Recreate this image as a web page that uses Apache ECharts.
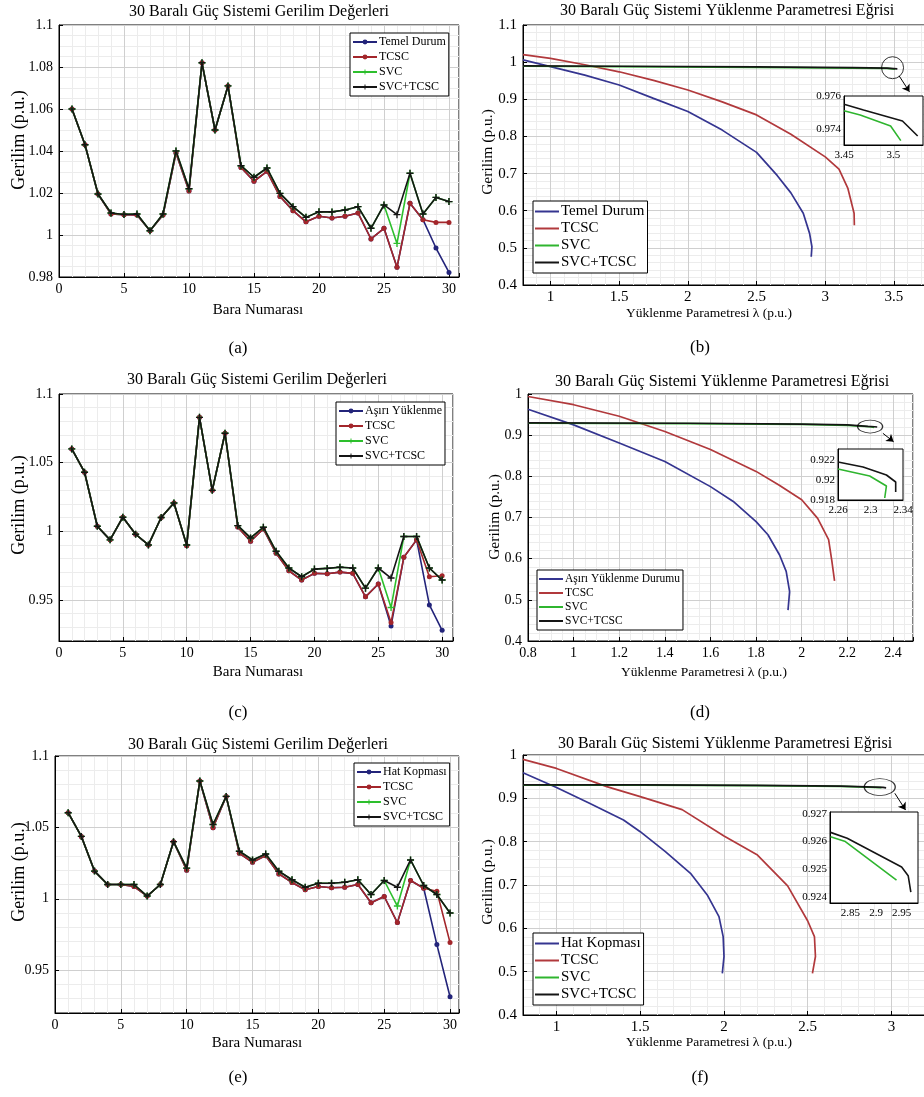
<!DOCTYPE html>
<html>
<head>
<meta charset="utf-8">
<script src="https://cdn.jsdelivr.net/npm/echarts@6/dist/echarts.min.js"></script>
<style>
  body { margin: 0; background: #fff; }
  .p { position: absolute; width: 462px; height: 365px; }
</style>
</head>
<body>
<div id="pa" class="p" style="left:0;top:0"></div>
<div id="pb" class="p" style="left:462px;top:0"></div>
<div id="pc" class="p" style="left:0;top:365px"></div>
<div id="pd" class="p" style="left:462px;top:365px"></div>
<div id="pe" class="p" style="left:0;top:730px"></div>
<div id="pf" class="p" style="left:462px;top:730px"></div>
<script>
// bus numbers
const buses = [1,2,3,4,5,6,7,8,9,10,11,12,13,14,15,16,17,18,19,20,21,22,23,24,25,26,27,28,29,30];

// (a) base case bus voltages
const aTemel    = [1.060,1.043,1.0195,1.010,1.0097,1.0095,1.002,1.0095,1.039,1.021,1.082,1.050,1.071,1.0322,1.0256,1.0303,1.0183,1.0116,1.0063,1.0089,1.0081,1.0089,1.0105,0.9981,1.0032,0.9846,1.0151,1.0073,0.9938,0.9822];
const aTcsc     = [1.060,1.043,1.0195,1.010,1.0097,1.0095,1.002,1.0095,1.039,1.021,1.082,1.050,1.071,1.0322,1.0256,1.0303,1.0183,1.0116,1.0063,1.0089,1.0081,1.0089,1.0105,0.9981,1.0032,0.9846,1.0151,1.0073,1.006,1.006];
const aSvc      = [1.060,1.043,1.0195,1.0105,1.0098,1.010,1.002,1.010,1.040,1.022,1.082,1.050,1.071,1.033,1.0275,1.0319,1.0198,1.0135,1.0084,1.0111,1.011,1.0119,1.0135,1.0032,1.0143,0.996,1.0294,1.010,1.0179,1.0159];
const aSvcTcsc  = [1.060,1.043,1.0195,1.0105,1.0098,1.010,1.002,1.010,1.040,1.022,1.082,1.050,1.071,1.033,1.0275,1.0319,1.0198,1.0135,1.0084,1.0111,1.011,1.0119,1.0135,1.0032,1.0143,1.0097,1.0294,1.010,1.0179,1.0159];

// (c) overload bus voltages
const cTemel    = [1.060,1.043,1.0036,0.9937,1.0102,0.9978,0.990,1.010,1.0206,0.9895,1.083,1.0298,1.0714,1.003,0.9927,1.0017,0.9839,0.9712,0.9644,0.9693,0.969,0.9702,0.9693,0.9522,0.9615,0.931,0.981,0.9937,0.9463,0.9278];
const cTcsc     = [1.060,1.043,1.0036,0.9937,1.0102,0.9978,0.990,1.010,1.0206,0.9895,1.083,1.0298,1.0714,1.003,0.9927,1.0017,0.9839,0.9712,0.9644,0.9693,0.969,0.9702,0.9693,0.9522,0.9615,0.9334,0.981,0.9937,0.9668,0.9676];
const cSvc      = [1.060,1.043,1.0036,0.9937,1.0102,0.9978,0.990,1.010,1.0206,0.990,1.083,1.0298,1.0714,1.0041,0.9951,1.0029,0.9854,0.9732,0.9668,0.9724,0.9729,0.9737,0.9732,0.9585,0.9732,0.9444,0.9961,0.9961,0.9732,0.9644];
const cSvcTcsc  = [1.060,1.043,1.0036,0.9937,1.0102,0.9978,0.990,1.010,1.0206,0.990,1.083,1.0298,1.0714,1.0041,0.9951,1.0029,0.9854,0.9732,0.9668,0.9724,0.9729,0.9737,0.9732,0.9585,0.9732,0.9659,0.9961,0.9961,0.9732,0.9644];

// (e) line outage bus voltages
const eTemel    = [1.0603,1.0437,1.0194,1.010,1.010,1.0086,1.0019,1.010,1.040,1.020,1.0825,1.0498,1.0717,1.0319,1.0256,1.0302,1.0174,1.0114,1.0063,1.0086,1.0077,1.0081,1.010,0.9972,1.0016,0.9833,1.0128,1.0074,0.9679,0.9314];
const eTcsc     = [1.0603,1.0437,1.0194,1.010,1.010,1.0086,1.0019,1.010,1.040,1.020,1.0825,1.0498,1.0717,1.0319,1.0256,1.0302,1.0174,1.0114,1.0063,1.0086,1.0077,1.0081,1.010,0.9972,1.0016,0.9833,1.0128,1.0074,1.0053,0.9693];
const eSvc      = [1.0603,1.0437,1.0194,1.010,1.010,1.010,1.0019,1.010,1.040,1.0215,1.0825,1.052,1.0717,1.0333,1.0272,1.0314,1.0193,1.0133,1.0081,1.0109,1.0109,1.0116,1.0133,1.003,1.0128,0.9949,1.0272,1.0093,1.003,0.990];
const eSvcTcsc  = [1.0603,1.0437,1.0194,1.010,1.010,1.010,1.0019,1.010,1.040,1.0215,1.0825,1.052,1.0717,1.0333,1.0272,1.0314,1.0193,1.0133,1.0081,1.0109,1.0109,1.0116,1.0133,1.003,1.0128,1.0081,1.0272,1.0093,1.003,0.990];

// (b) PV curves [lambda, V]
const bTemel    = [[0.8,1.006],[1.0,0.988],[1.25,0.965],[1.5,0.9385],[1.75,0.9025],[2.0,0.867],[2.25,0.817],[2.5,0.757],[2.65,0.695],[2.75,0.648],[2.84,0.593],[2.886,0.539],[2.903,0.503],[2.898,0.476]];
const bTcsc     = [[0.8,1.02],[1.0,1.01],[1.25,0.993],[1.5,0.974],[1.75,0.951],[2.0,0.925],[2.25,0.893],[2.5,0.858],[2.75,0.806],[3.0,0.745],[3.1,0.712],[3.165,0.66],[3.21,0.593],[3.212,0.561]];
const bSvc      = [[0.8,0.989],[1.5,0.988],[2.5,0.986],[3.2,0.984],[3.45,0.983],[3.508,0.981]];
const bSvcTcsc  = [[0.8,0.99],[1.5,0.989],[2.5,0.987],[3.2,0.985],[3.45,0.984],[3.525,0.982]];
const bZoomSvc      = [[3.45,0.9751],[3.4664,0.97484],[3.4972,0.97416],[3.5075,0.97327]];
const bZoomSvcTcsc  = [[3.45,0.97549],[3.4698,0.97514],[3.5092,0.97447],[3.5246,0.97355]];

// (d) PV curves, overload
const dTemel    = [[0.8,0.963],[1.0,0.925],[1.2,0.881],[1.4,0.836],[1.6,0.775],[1.7,0.739],[1.8,0.69],[1.852,0.658],[1.903,0.609],[1.932,0.569],[1.947,0.52],[1.94,0.475]];
const dTcsc     = [[0.8,0.994],[1.0,0.974],[1.2,0.946],[1.4,0.909],[1.6,0.865],[1.8,0.812],[1.9,0.779],[2.0,0.743],[2.07,0.698],[2.118,0.646],[2.132,0.595],[2.144,0.546]];
const dSvc      = [[0.8,0.929],[1.5,0.928],[2.0,0.926],[2.2,0.924],[2.3,0.9204],[2.318,0.9188]];
const dSvcTcsc  = [[0.8,0.93],[1.5,0.929],[2.0,0.927],[2.2,0.925],[2.29,0.9215],[2.32,0.9205],[2.331,0.9198]];
const dZoomSvc      = [[2.26,0.9211],[2.299,0.9204],[2.3196,0.9194],[2.3175,0.9182]];
const dZoomSvcTcsc  = [[2.26,0.9218],[2.2908,0.9213],[2.3196,0.9205],[2.331,0.9198],[2.331,0.9188]];

// (f) PV curves, line outage
const fTemel    = [[0.8,0.959],[1.0,0.925],[1.2,0.888],[1.4,0.85],[1.5,0.823],[1.65,0.777],[1.8,0.727],[1.9,0.677],[1.97,0.627],[1.995,0.581],[2.0,0.535],[1.99,0.496]];
const fTcsc     = [[0.8,0.99],[1.0,0.969],[1.3,0.927],[1.5,0.904],[1.75,0.874],[2.0,0.813],[2.2,0.769],[2.38,0.698],[2.5,0.617],[2.54,0.581],[2.546,0.535],[2.528,0.496]];
const fSvc      = [[0.8,0.9305],[1.5,0.9305],[2.2,0.9295],[2.7,0.9275],[2.85,0.926],[2.94,0.9246]];
const fSvcTcsc  = [[0.8,0.931],[1.5,0.931],[2.2,0.93],[2.7,0.928],[2.85,0.9263],[2.95,0.9251],[2.968,0.9242]];
const fZoomSvc      = [[2.811,0.92617],[2.84,0.926],[2.94,0.92462]];
const fZoomSvcTcsc  = [[2.811,0.92633],[2.8436,0.92612],[2.95,0.92509],[2.9628,0.92478],[2.968,0.92419]];

const SERIF = '"Liberation Serif", "DejaVu Serif", serif';
const PLUS = 'path://M4,0H6V10H4ZM0,4H10V6H0Z';
const COLORS = ['#23247a', '#a3262b', '#2dbf2d', '#151515'];
const CURVE_COLORS = ['#353590', '#b1393c', '#2fb52f', '#151515'];

function labelIf(step, base) {
  base = base || 0;
  return function (v) {
    const r = (v - base) / step;
    return Math.abs(r - Math.round(r)) < 1e-6 ? String(+v.toFixed(4)) : '';
  };
}

// minor grid axis + major axis sharing the same extent
function mainAxes(dim, a, fontSize) {
  const common = { type: 'value', gridIndex: 0, min: a.min, max: a.max };
  const minor = Object.assign({}, common, {
    position: dim === 'x' ? 'top' : 'right',
    interval: a.minor, z: 0,
    axisLine: { show: false }, axisTick: { show: false }, axisLabel: { show: false },
    splitLine: { show: true, lineStyle: { color: '#ececec', width: 1 } }
  });
  const major = Object.assign({}, common, {
    position: dim === 'x' ? 'bottom' : 'left', z: 1,
    axisLine: { show: true, onZero: false, lineStyle: { color: '#000' } },
    axisTick: { show: true, inside: true, length: 4, lineStyle: { color: '#000' } },
    axisLabel: { color: '#000', fontFamily: SERIF, fontSize: fontSize, margin: dim === 'x' ? 5 : 6, formatter: labelIf(a.step) },
    splitLine: { show: true, lineStyle: { color: '#cfcfcf', width: 1 } }
  });
  if (a.auto) major.splitNumber = a.split; else major.interval = a.step;
  return [minor, major];
}

function insetAxis(dim, a) {
  return {
    type: 'value', gridIndex: 1, min: a.min, max: a.max, interval: a.interval,
    position: dim === 'x' ? 'bottom' : 'left', z: 6,
    axisLine: { show: true, onZero: false, lineStyle: { color: '#000' } },
    axisTick: { show: false },
    axisLabel: { color: '#000', fontFamily: SERIF, fontSize: 11, margin: dim === 'x' ? 5 : 3, formatter: labelIf(a.step, a.base) },
    splitLine: { show: false }
  };
}

function legendAt(pos, names, fontSize, lineOnly) {
  const lg = {
    show: true, orient: 'vertical', left: pos[0], top: pos[1], data: names,
    itemWidth: 24, itemHeight: lineOnly ? 2 : 6, itemGap: lineOnly ? 2 : 3, padding: [3, 3, 3, 2],
    borderColor: '#000', borderWidth: 1, backgroundColor: '#fff', selectedMode: false, z: 20,
    textStyle: { color: '#000', fontFamily: SERIF, fontSize: fontSize, padding: [0, 0, 0, -3] }
  };
  if (lineOnly) lg.icon = 'rect';
  return lg;
}

function texts(t) {
  const st = (s, size) => ({ text: s, font: size + 'px ' + SERIF, fill: '#000',
    textAlign: 'center', textVerticalAlign: 'middle', align: 'center', verticalAlign: 'middle' });
  return [
    { type: 'text', x: t.title[0], y: t.title[1], style: st(t.title[2], 16) },
    { type: 'text', x: t.xName[0], y: t.xName[1], style: st(t.xName[2], t.xNameSize) },
    { type: 'text', x: t.yName[0], y: t.yName[1], rotation: Math.PI / 2, style: st('Gerilim (p.u.)', t.yNameSize) },
    { type: 'text', x: t.label[0], y: t.label[1], style: st(t.label[2], 17) }
  ];
}

const gridBase = { show: true, borderColor: '#000', borderWidth: 1, backgroundColor: 'transparent', containLabel: false, outerBoundsMode: 'none' };

function busPanel(id, cfg) {
  const chart = echarts.init(document.getElementById(id));
  const marks = [['circle', 5], ['circle', 5], [PLUS, 7], [PLUS, 7]];
  const series = cfg.values.map((vals, i) => ({
    type: 'line', name: cfg.names[i], xAxisIndex: 1, yAxisIndex: 1,
    data: buses.map((b, k) => [b, vals[k]]),
    symbol: marks[i][0], symbolSize: marks[i][1], showSymbol: true,
    lineStyle: { color: COLORS[i], width: 1.6 }, itemStyle: { color: COLORS[i] },
    z: 3 + i, silent: true
  }));
  cfg.text.xNameSize = 15;
  cfg.text.yNameSize = 18;
  chart.setOption({
    animation: false,
    grid: [Object.assign({}, gridBase, cfg.grid)],
    xAxis: mainAxes('x', { min: 0, max: cfg.xMax, step: 5, minor: 1 }, 14),
    yAxis: mainAxes('y', cfg.y, 14),
    legend: legendAt(cfg.legend, cfg.names, 12, false),
    series: series,
    graphic: texts(cfg.text)
  });
}

function curvePanel(id, cfg) {
  const chart = echarts.init(document.getElementById(id));
  const series = cfg.values.map((vals, i) => ({
    type: 'line', name: cfg.names[i], xAxisIndex: 1, yAxisIndex: 1, data: vals,
    symbol: 'none', lineStyle: { color: CURVE_COLORS[i], width: 1.7 }, itemStyle: { color: CURVE_COLORS[i] },
    z: 3 + i, silent: true
  }));
  cfg.zoom.forEach((vals, i) => series.push({
    type: 'line', name: i ? 'SVC+TCSC (yakın)' : 'SVC (yakın)', xAxisIndex: 2, yAxisIndex: 2, data: vals,
    symbol: 'none', lineStyle: { color: CURVE_COLORS[2 + i], width: 1.6 }, z: 8 + i, silent: true
  }));
  // ellipse marking the zoomed region + arrow to the inset
  series.push({
    type: 'scatter', name: 'işaret', xAxisIndex: 1, yAxisIndex: 1, data: [cfg.circle],
    symbol: 'circle', symbolSize: cfg.circleSize, silent: true, z: 10,
    itemStyle: { color: 'rgba(0,0,0,0)', borderColor: '#000', borderWidth: 1 },
    markLine: {
      silent: true, symbol: ['none', 'arrow'], symbolSize: 7, label: { show: false },
      lineStyle: { color: '#000', width: 1, type: 'solid' },
      data: [[{ coord: cfg.arrow[0] }, { coord: cfg.arrow[1] }]]
    }
  });
  const xs = mainAxes('x', cfg.x, cfg.tickSize);
  const ys = mainAxes('y', { min: 0.4, max: cfg.yMax, step: 0.1, minor: 0.02 }, cfg.tickSize);
  xs.push(insetAxis('x', cfg.zx));
  ys.push(insetAxis('y', cfg.zy));
  cfg.text.xNameSize = 13.5;
  cfg.text.yNameSize = 15.5;
  chart.setOption({
    animation: false,
    grid: [Object.assign({}, gridBase, cfg.grid),
           Object.assign({}, gridBase, cfg.zoomGrid, { backgroundColor: '#fff', z: 5 })],
    xAxis: xs,
    yAxis: ys,
    legend: legendAt(cfg.legend, cfg.names, cfg.legendSize, true),
    series: series,
    graphic: texts(cfg.text)
  });
}

const BUS_X = 'Bara Numarası';
const LAMBDA_X = 'Yüklenme Parametresi λ (p.u.)';
const T1 = '30 Baralı Güç Sistemi Gerilim Değerleri';
const T2 = '30 Baralı Güç Sistemi Yüklenme Parametresi Eğrisi';

busPanel('pa', {
  grid: { left: 59, top: 25, width: 400, height: 252 },
  xMax: 30.77, y: { min: 0.98, max: 1.1, step: 0.02, minor: 0.005 },
  names: ['Temel Durum', 'TCSC', 'SVC', 'SVC+TCSC'],
  values: [aTemel, aTcsc, aSvc, aSvcTcsc],
  legend: [350, 33],
  text: { title: [259, 12, T1], xName: [258, 310, BUS_X], yName: [19, 140], label: [238, 349, '(a)'] }
});

busPanel('pc', {
  grid: { left: 59, top: 29, width: 394, height: 247 },
  xMax: 30.85, y: { min: 0.92, max: 1.1, step: 0.05, auto: true, split: 4, minor: 0.01 },
  names: ['Aşırı Yüklenme', 'TCSC', 'SVC', 'SVC+TCSC'],
  values: [cTemel, cTcsc, cSvc, cSvcTcsc],
  legend: [336, 37],
  text: { title: [257, 15, T1], xName: [258, 307, BUS_X], yName: [19, 140], label: [238, 348, '(c)'] }
});

busPanel('pe', {
  grid: { left: 55, top: 26, width: 404, height: 257 },
  xMax: 30.68, y: { min: 0.92, max: 1.1, step: 0.05, auto: true, split: 4, minor: 0.01 },
  names: ['Hat Kopması', 'TCSC', 'SVC', 'SVC+TCSC'],
  values: [eTemel, eTcsc, eSvc, eSvcTcsc],
  legend: [354, 33],
  text: { title: [258, 15, T1], xName: [257, 313, BUS_X], yName: [19, 142], label: [238, 348, '(e)'] }
});

curvePanel('pb', {
  grid: { left: 61, top: 25, width: 405, height: 260 },
  zoomGrid: { left: 382, top: 96, width: 79, height: 49 },
  x: { min: 0.8, max: 3.748, step: 0.5, auto: true, split: 6, minor: 0.1 }, yMax: 1.1,
  zx: { min: 3.45, max: 3.53, interval: 0.01, step: 0.05 },
  zy: { min: 0.973, max: 0.976, interval: 0.001, step: 0.002 },
  names: ['Temel Durum', 'TCSC', 'SVC', 'SVC+TCSC'],
  values: [bTemel, bTcsc, bSvc, bSvcTcsc],
  zoom: [bZoomSvc, bZoomSvcTcsc],
  circle: [3.49, 0.985], circleSize: [22, 22],
  arrow: [[3.538, 0.963], [3.613, 0.92]],
  legend: [71, 201], legendSize: 15, tickSize: 15,
  text: { title: [265, 11, T2], xName: [247, 313, LAMBDA_X], yName: [26, 152], label: [238, 348, '(b)'] }
});

curvePanel('pd', {
  grid: { left: 66, top: 29, width: 385, height: 247 },
  zoomGrid: { left: 376, top: 84, width: 65, height: 51 },
  x: { min: 0.8, max: 2.488, step: 0.2, minor: 0.05 }, yMax: 1,
  zx: { min: 2.26, max: 2.34, interval: 0.02, step: 0.04, base: 2.26 },
  zy: { min: 0.918, max: 0.9231, interval: 0.002, step: 0.002 },
  names: ['Aşırı Yüklenme Durumu', 'TCSC', 'SVC', 'SVC+TCSC'],
  values: [dTemel, dTcsc, dSvc, dSvcTcsc],
  zoom: [dZoomSvc, dZoomSvcTcsc],
  circle: [2.3, 0.921], circleSize: [25, 13],
  arrow: [[2.356, 0.9045], [2.403, 0.884]],
  legend: [75, 205], legendSize: 11.5, tickSize: 14,
  text: { title: [260, 17, T2], xName: [242, 307, LAMBDA_X], yName: [33, 152], label: [238, 348, '(d)'] }
});

curvePanel('pf', {
  grid: { left: 61, top: 25, width: 405, height: 260 },
  zoomGrid: { left: 368, top: 82, width: 88, height: 91 },
  x: { min: 0.8, max: 3.218, step: 0.5, auto: true, split: 5, minor: 0.1 }, yMax: 1,
  zx: { min: 2.81, max: 2.982, interval: 0.01, step: 0.05 },
  zy: { min: 0.9238, max: 0.92706, interval: 0.0002, step: 0.001 },
  names: ['Hat Kopması', 'TCSC', 'SVC', 'SVC+TCSC'],
  values: [fTemel, fTcsc, fSvc, fSvcTcsc],
  zoom: [fZoomSvc, fZoomSvcTcsc],
  circle: [2.93, 0.926], circleSize: [31, 17],
  arrow: [[3.02, 0.9116], [3.084, 0.873]],
  legend: [71, 203], legendSize: 15, tickSize: 15,
  text: { title: [263, 14, T2], xName: [247, 312, LAMBDA_X], yName: [26, 152], label: [238, 348, '(f)'] }
});
</script>
</body>
</html>
